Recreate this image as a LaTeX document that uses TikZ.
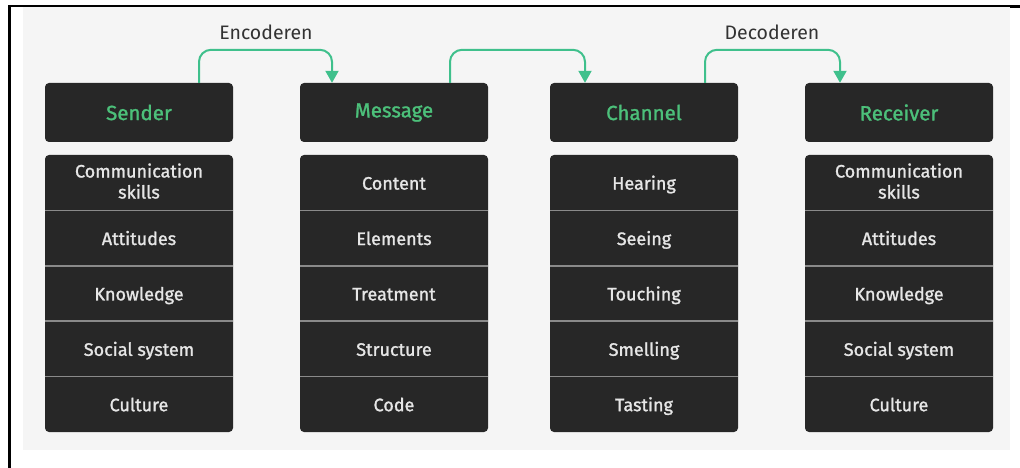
\documentclass[tikz,border=0pt]{standalone}
\usepackage{fontspec}
\setmainfont{Fira Sans}
\newfontface\medfont{Fira Sans}[FakeBold=1.3]
\usetikzlibrary{arrows.meta}
\definecolor{bg}{HTML}{F5F5F5}
\definecolor{boxc}{HTML}{272727}
\definecolor{divc}{HTML}{8A8A8A}
\definecolor{hdgreen}{HTML}{4CC07A}
\definecolor{arrgreen}{HTML}{3FC08C}
\definecolor{bodytxt}{HTML}{E6E6E6}
\definecolor{lbl}{HTML}{333333}
\begin{document}
\begin{tikzpicture}[x=1pt,y=-1pt,
 header/.style={fill=boxc, rounded corners=4pt, minimum width=188pt, minimum height=59pt, inner sep=0pt, text=hdgreen, font=\fontsize{20.5}{22}\medfont},
 bodybox/.style={fill=boxc, rounded corners=4pt, minimum width=188pt, minimum height=277pt, inner sep=0pt},
 item/.style={text=bodytxt, align=center, inner sep=0pt, anchor=base, font=\fontsize{18}{21}\medfont},
 divider/.style={draw=divc, line width=1.5pt},
 flow/.style={draw=arrgreen, line width=2pt, rounded corners=12pt, -{Triangle[length=12pt,width=13pt]}},
 lab/.style={text=lbl, font=\fontsize{19.5}{22}\selectfont}]
\useasboundingbox (0,0) rectangle (1020,468);
\fill[white] (0,0) rectangle (1020,468);
\fill[bg] (23,7) rectangle (1010,450);
\draw[line width=1.3pt] (8,6) -- (1010,6);
\fill (1010,5) rectangle (1020,8);
\draw[line width=2.7pt] (9.5,5.5) -- (9.5,468);

% headers
\node[header] (sender) at (139,112.5) {Sender};
\node[header] (message) at (394,112.5) {Message};
\node[header] (channel) at (644,112.5) {Channel};
\node[header] (receiver) at (899,112.5) {Receiver};

% bodies
\foreach \nm/\cx in {bs/139, bm/394, bc/644, br/899}{
  \node[bodybox] (\nm) at (\cx,293.5) {};
  \foreach \yy in {210.4,265.8,321.2,376.6}{
    \draw[divider] (\cx-94,\yy) -- (\cx+94,\yy);
  }
}

\foreach \nm/\cx/\b/\c/\d/\e in {
  s/139/Attitudes/Knowledge/Social system/Culture,
  m/394/Elements/Treatment/Structure/Code,
  c/644/Seeing/Touching/Smelling/Tasting,
  r/899/Attitudes/Knowledge/Social system/Culture}{
  \node[item] (\nm2) at (\cx,245) {\b};
  \node[item] (\nm3) at (\cx,300.4) {\c};
  \node[item] (\nm4) at (\cx,355.8) {\d};
  \node[item] (\nm5) at (\cx,411.2) {\e};
}
\node[item] (m1) at (394,189.6) {Content};
\node[item] (c1) at (644,189.6) {Hearing};
\node[item] (s1) at (139,177.5) {Communication};
\node[item] (s1b) at (139,198.5) {skills};
\node[item] (r1) at (899,177.5) {Communication};
\node[item] (r1b) at (899,198.5) {skills};

% flows
\draw[flow] ([xshift=60pt]sender.north) -- ++(0,-33) -| ([xshift=-62pt]message.north);
\draw[flow] ([xshift=56pt]message.north) -- ++(0,-33) -| ([xshift=-59pt]channel.north);
\draw[flow] ([xshift=61pt]channel.north) -- ++(0,-33) -| ([xshift=-59pt]receiver.north);

\node[lab] (enc) at (266,32) {Encoderen};
\node[lab] (dec) at (772,32) {Decoderen};
\end{tikzpicture}
\end{document}
